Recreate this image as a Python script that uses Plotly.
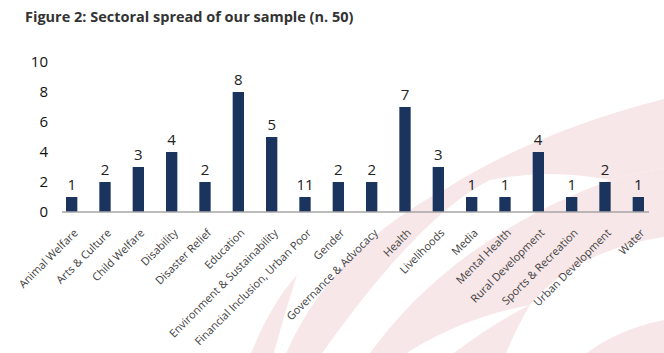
import plotly.graph_objects as go

categories = ["Animal Welfare", "Arts & Culture", "Child Welfare", "Disability", "Disaster Relief",
              "Education", "Environment & Sustainability", "Financial Inclusion, Urban Poor", "Gender",
              "Governance & Advocacy", "Health", "Livelihoods", "Media", "Mental Health",
              "Rural Development", "Sports & Recreation", "Urban Development", "Water"]
values = [1, 2, 3, 4, 2, 8, 5, 1, 2, 2, 7, 3, 1, 1, 4, 1, 2, 1]
value_labels = ["1", "2", "3", "4", "2", "8", "5", "11", "2", "2", "7", "3", "1", "1", "4", "1", "2", "1"]
y_ticks = [0, 2, 4, 6, 8, 10]

W, H = 664, 353
L, R, T, B = 55, 9, 62, 141
PW, PH = W - L - R, H - T - B

def px(x, y):
    return (x - L) / PW, (H - B - y) / PH

def path(cmds):
    out = []
    for c in cmds:
        if isinstance(c, str):
            out.append(c)
        else:
            x, y = px(*c)
            out.append(f"{x:.4f},{y:.4f}")
    return " ".join(out)

pink = "#f7e7e9"
decor = [
    # thin spike lower left
    ["M", (250, 356), "Q", (270, 305), (297, 275), "Q", (284, 315), (273, 356), "Z"],
    # left blade sweeping to the upper right
    ["M", (285, 356), "Q", (330, 250), (447, 188), "Q", (540, 130), (668, 98),
     "L", (668, 168), "Q", (640, 172), (610, 180), "Q", (550, 168), (490, 180),
     "Q", (420, 215), (320, 356), "Z"],
    # middle blade
    ["M", (368, 356), "Q", (450, 240), (610, 180), "Q", (640, 172), (668, 168),
     "L", (668, 236), "Q", (575, 250), (530, 305), "Q", (460, 318), (402, 356), "Z"],
    # lower right crescent
    ["M", (583, 356), "Q", (615, 330), (664, 320), "L", (668, 356), "Z"],
    # lower middle sliver under the dome
    ["M", (450, 356), "Q", (490, 325), (530, 305), "Q", (515, 330), (505, 356), "Z"],
]
bg_shapes = []
for d in decor:
    bg_shapes.append(dict(type="path", path=path(d), xref="paper", yref="paper",
                          fillcolor=pink, line=dict(width=0), layer="below"))

ax0, _ = px(62, 212)
ax1, _ = px(649, 212)
bg_shapes.append(dict(type="line", xref="paper", yref="paper", x0=ax0, x1=ax1, y0=0, y1=0,
                      line=dict(color="#a6a6a6", width=1.5)))

fig = go.Figure(go.Bar(
    x=categories, y=values, text=value_labels, textposition="outside",
    textfont=dict(family="Open Sans", size=15, color="#222222"),
    constraintext="none",
    marker=dict(color="#1b345e", line=dict(width=0)),
    cliponaxis=False,
))

fig.update_layout(
    width=W, height=H, margin=dict(l=L, r=R, t=T, b=B),
    paper_bgcolor="white", plot_bgcolor="rgba(0,0,0,0)",
    bargap=0.66, showlegend=False,
    font=dict(family="Open Sans", color="#222222"),
    title=dict(text="<b>Figure 2: Sectoral spread of our sample (n. 50)</b>",
               x=25 / W, xanchor="left", y=1 - 17 / H, yanchor="middle",
               font=dict(family="Open Sans", size=14.5, color="#333333")),
    shapes=bg_shapes,
    xaxis=dict(tickangle=-45, tickfont=dict(family="Open Sans", size=11, color="#404040"),
               showline=False, showgrid=False, automargin=False,
               ticks="outside", ticklen=9, tickcolor="rgba(0,0,0,0)", ticklabelshift=3),
    yaxis=dict(range=[0, 10], tickvals=y_ticks, showgrid=False, zeroline=False, showline=False,
               tickfont=dict(family="Open Sans", size=15, color="#111111"), ticks="",
               ticklabelstandoff=6, automargin=False),
)

fig.write_html("out.html")
